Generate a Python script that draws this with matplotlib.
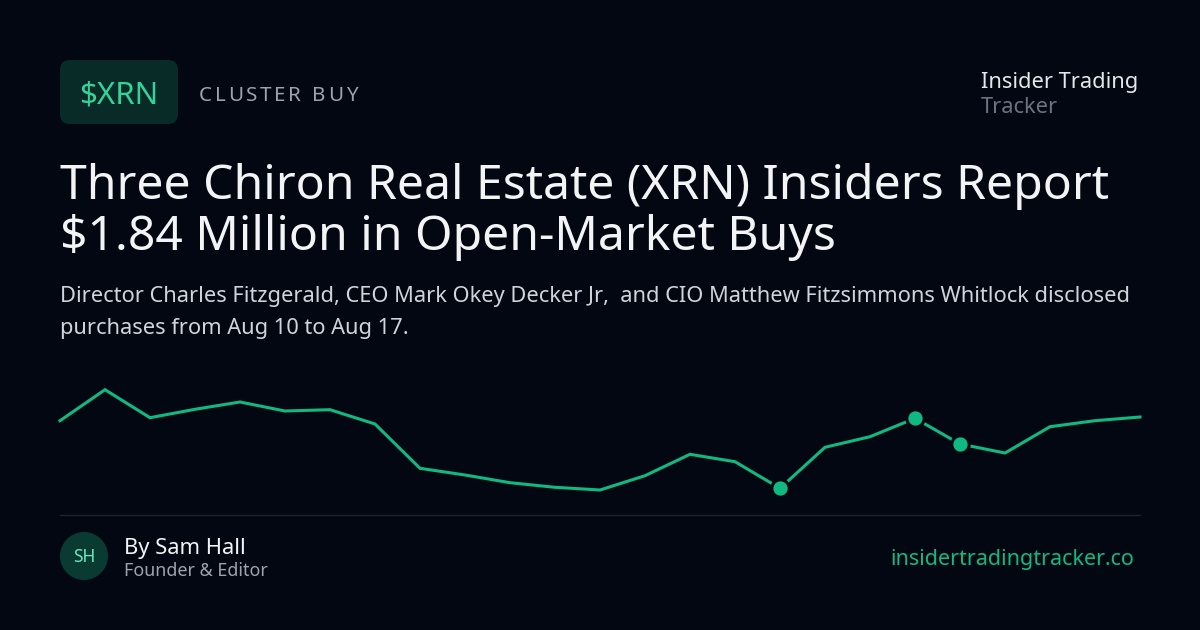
import matplotlib.pyplot as plt
from matplotlib.patches import FancyBboxPatch, Circle

# price path (arbitrary units)
prices = [79.3, 110.3, 82.3, 90.7, 98.0, 89.0, 90.3, 76.0, 31.7, 25.0, 17.3, 12.7, 10.0,
          24.3, 45.7, 38.3, 11.7, 52.7, 63.3, 81.7, 56.0, 47.0, 73.3, 79.3, 83.0]
buy_days = [16, 19, 20]  # insider purchases

ticker = "$XRN"
tag = "CLUSTER BUY"
title_lines = ["Three Chiron Real Estate (XRN) Insiders Report",
               "$1.84 Million in Open-Market Buys"]
sub_lines = ["Director Charles Fitzgerald, CEO Mark Okey Decker Jr,  and CIO Matthew Fitzsimmons Whitlock disclosed",
             "purchases from Aug 10 to Aug 17."]

BG = "#030712"
GREEN = "#10b981"
plt.rcParams["font.family"] = ["Noto Sans", "DejaVu Sans"]

fig = plt.figure(figsize=(12, 6.3), dpi=100, facecolor=BG)

# full-figure layer in pixel coords
bg = fig.add_axes([0, 0, 1, 1])
bg.set_xlim(0, 1200)
bg.set_ylim(630, 0)
bg.axis("off")
bg.set_facecolor(BG)

# ticker badge
bg.add_patch(FancyBboxPatch((60, 60), 118, 64, boxstyle="round,pad=0,rounding_size=10",
                            fc="#082b27", ec="none"))
bg.text(119, 103, ticker, color="#34d399", fontsize=22.5, ha="center", va="baseline")

# letter-spaced tag
fig.canvas.draw()
r = fig.canvas.get_renderer()
x = 199
for ch in tag:
    t = bg.text(x, 101, ch, color="#9ca3af", fontsize=14.8, va="baseline")
    w = t.get_window_extent(r).width if ch != " " else 6
    x += w + 2.7

bg.text(981, 88, "Insider Trading", color="#e5e7eb", fontsize=15.7, va="baseline")
bg.text(981, 113, "Tracker", color="#6b7280", fontsize=15.7, va="baseline")

for i, line in enumerate(title_lines):
    bg.text(60, 199 + i * 51, line, color="#f3f4f6", fontsize=34.6, va="baseline")
for i, line in enumerate(sub_lines):
    bg.text(60, 302 + i * 32, line, color="#d1d5db", fontsize=15.7, va="baseline")

# separator + footer
bg.plot([60, 1140], [515, 515], color="#1c2230", lw=1)
bg.add_patch(Circle((84, 556), 24, fc="#0a3b33", ec="none"))
bg.text(84, 557, "SH", color="#6ee7b7", fontsize=12.5, ha="center", va="center")
bg.text(124, 554, "By Sam Hall", color="#f3f4f6", fontsize=15.8, va="baseline")
bg.text(124, 576, "Founder & Editor", color="#9ca3af", fontsize=12.9, va="baseline")
bg.text(1134, 565, "insidertradingtracker.co", color=GREEN, fontsize=15.5, ha="right", va="baseline")

# sparkline
ax = fig.add_axes([60 / 1200, 130 / 630, 1080 / 1200, 120 / 630])
ax.set_xlim(0, len(prices) - 1)
ax.set_ylim(0, 120)
ax.axis("off")
ax.patch.set_alpha(0)
days = list(range(len(prices)))
ax.plot(days, prices, color=GREEN, lw=2.2, solid_joinstyle="miter", clip_on=False)
ax.plot([days[i] for i in buy_days], [prices[i] for i in buy_days], "o", ms=12.5,
        mfc=GREEN, mec=BG, mew=2.2, clip_on=False)

fig.savefig("out.png", dpi=100, facecolor=BG)
